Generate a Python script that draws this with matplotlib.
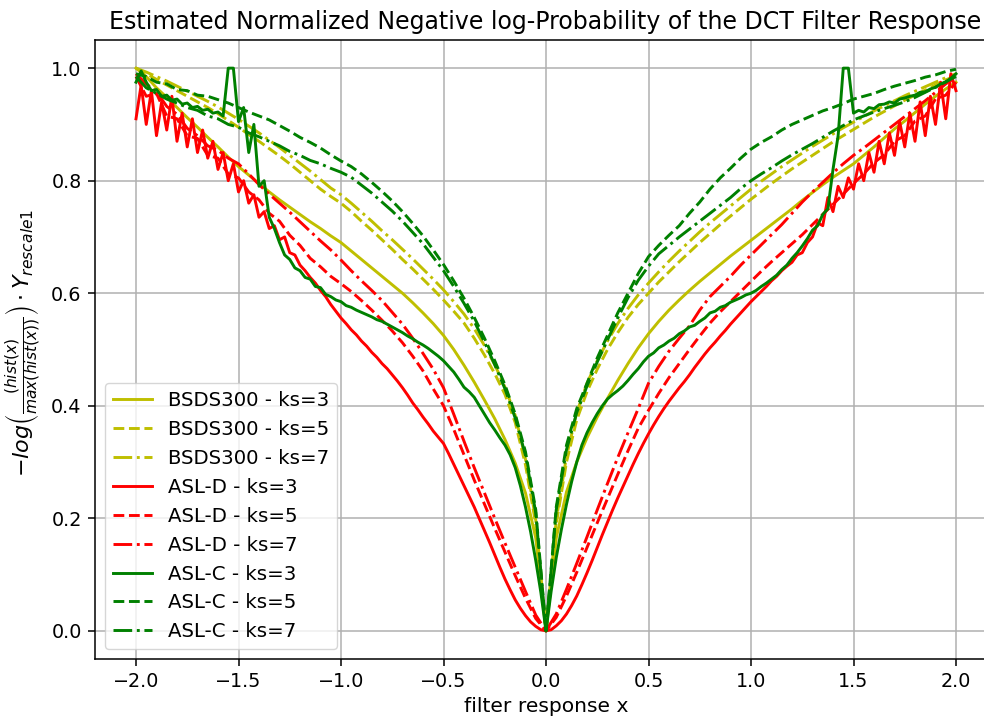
import numpy as np
import matplotlib
matplotlib.use('Agg')
import matplotlib.pyplot as plt

# === Data (bins of the filter response) ===
# curves on a 0.05 grid: -2.0 ... 2.0 (81 bins)
bsds_k3 = [1.000, 0.985, 0.965, 0.948, 0.930, 0.912, 0.895, 0.877, 0.860, 0.842,
           0.825, 0.810, 0.795, 0.780, 0.766, 0.753, 0.740, 0.727, 0.715, 0.702,
           0.690, 0.675, 0.660, 0.645, 0.630, 0.615, 0.600, 0.583, 0.565, 0.546,
           0.525, 0.500, 0.472, 0.442, 0.410, 0.377, 0.340, 0.298, 0.245, 0.165,
           0.000,
           0.165, 0.247, 0.300, 0.343, 0.380, 0.413, 0.445, 0.475, 0.503, 0.528,
           0.550, 0.570, 0.588, 0.605, 0.621, 0.636, 0.651, 0.666, 0.680, 0.694,
           0.708, 0.722, 0.736, 0.750, 0.765, 0.779, 0.793, 0.806, 0.818, 0.830,
           0.845, 0.860, 0.876, 0.892, 0.906, 0.921, 0.936, 0.950, 0.963, 0.975]
bsds_k5 = [1.000, 0.990, 0.980, 0.970, 0.960, 0.950, 0.940, 0.930, 0.919, 0.907,
           0.895, 0.882, 0.870, 0.857, 0.844, 0.830, 0.815, 0.800, 0.785, 0.772,
           0.760, 0.745, 0.728, 0.712, 0.695, 0.678, 0.660, 0.643, 0.625, 0.607,
           0.588, 0.568, 0.547, 0.520, 0.490, 0.457, 0.420, 0.370, 0.295, 0.190,
           0.000,
           0.190, 0.300, 0.375, 0.425, 0.465, 0.500, 0.530, 0.557, 0.580, 0.600,
           0.620, 0.638, 0.656, 0.673, 0.690, 0.706, 0.722, 0.737, 0.752, 0.767,
           0.781, 0.795, 0.808, 0.821, 0.833, 0.845, 0.857, 0.869, 0.880, 0.891,
           0.902, 0.913, 0.923, 0.933, 0.943, 0.952, 0.961, 0.970, 0.979, 0.987]
bsds_k7 = [1.000, 0.993, 0.985, 0.977, 0.968, 0.959, 0.950, 0.941, 0.931, 0.920,
           0.909, 0.897, 0.885, 0.872, 0.859, 0.845, 0.831, 0.817, 0.802, 0.787,
           0.775, 0.760, 0.744, 0.728, 0.711, 0.695, 0.678, 0.661, 0.643, 0.625,
           0.606, 0.585, 0.563, 0.537, 0.507, 0.473, 0.433, 0.383, 0.305, 0.197,
           0.000,
           0.197, 0.310, 0.388, 0.440, 0.480, 0.515, 0.546, 0.573, 0.597, 0.618,
           0.638, 0.657, 0.675, 0.692, 0.709, 0.725, 0.740, 0.755, 0.770, 0.785,
           0.799, 0.812, 0.825, 0.837, 0.849, 0.861, 0.872, 0.883, 0.894, 0.904,
           0.914, 0.924, 0.933, 0.942, 0.951, 0.959, 0.967, 0.975, 0.983, 0.990]
asld_k5 = [0.985, 0.950, 0.955, 0.915, 0.910, 0.880, 0.875, 0.845, 0.840, 0.812,
           0.805, 0.780, 0.766, 0.742, 0.728, 0.703, 0.685, 0.662, 0.647, 0.630,
           0.617, 0.603, 0.587, 0.570, 0.552, 0.533, 0.512, 0.488, 0.462, 0.430,
           0.400, 0.358, 0.313, 0.268, 0.225, 0.182, 0.140, 0.098, 0.058, 0.022,
           0.000,
           0.024, 0.062, 0.104, 0.148, 0.192, 0.235, 0.278, 0.320, 0.360, 0.392,
           0.422, 0.450, 0.475, 0.500, 0.524, 0.547, 0.567, 0.585, 0.603, 0.621,
           0.639, 0.656, 0.672, 0.688, 0.704, 0.722, 0.740, 0.758, 0.776, 0.795,
           0.812, 0.832, 0.846, 0.870, 0.880, 0.906, 0.915, 0.945, 0.952, 0.975]
asld_k7 = [0.990, 0.972, 0.958, 0.932, 0.918, 0.893, 0.880, 0.862, 0.854, 0.840,
           0.830, 0.812, 0.793, 0.776, 0.760, 0.744, 0.727, 0.710, 0.693, 0.677,
           0.659, 0.640, 0.622, 0.605, 0.587, 0.566, 0.545, 0.520, 0.493, 0.465,
           0.432, 0.385, 0.337, 0.290, 0.245, 0.200, 0.156, 0.113, 0.070, 0.028,
           0.000,
           0.030, 0.074, 0.120, 0.167, 0.215, 0.262, 0.308, 0.352, 0.395, 0.440,
           0.470, 0.497, 0.520, 0.542, 0.570, 0.594, 0.612, 0.630, 0.650, 0.668,
           0.686, 0.704, 0.722, 0.742, 0.762, 0.780, 0.797, 0.814, 0.830, 0.845,
           0.858, 0.872, 0.886, 0.900, 0.914, 0.928, 0.942, 0.957, 0.972, 0.985]
aslc_k5 = [0.990, 0.985, 0.975, 0.972, 0.962, 0.960, 0.952, 0.950, 0.944, 0.938,
           0.930, 0.922, 0.915, 0.908, 0.898, 0.888, 0.877, 0.868, 0.858, 0.846,
           0.835, 0.825, 0.812, 0.797, 0.781, 0.764, 0.745, 0.724, 0.702, 0.677,
           0.651, 0.622, 0.591, 0.557, 0.520, 0.480, 0.437, 0.385, 0.318, 0.215,
           0.000,
           0.220, 0.330, 0.395, 0.440, 0.485, 0.525, 0.565, 0.600, 0.635, 0.665,
           0.685, 0.703, 0.720, 0.742, 0.762, 0.785, 0.805, 0.822, 0.840, 0.856,
           0.868, 0.878, 0.890, 0.900, 0.908, 0.916, 0.924, 0.930, 0.937, 0.945,
           0.950, 0.955, 0.962, 0.968, 0.973, 0.978, 0.984, 0.988, 0.994, 0.998]
aslc_k7 = [0.985, 0.965, 0.955, 0.945, 0.938, 0.930, 0.925, 0.915, 0.910, 0.900,
           0.895, 0.885, 0.878, 0.870, 0.862, 0.852, 0.845, 0.836, 0.830, 0.822,
           0.815, 0.806, 0.792, 0.778, 0.762, 0.746, 0.728, 0.708, 0.688, 0.664,
           0.640, 0.612, 0.582, 0.550, 0.513, 0.473, 0.430, 0.378, 0.312, 0.210,
           0.000,
           0.215, 0.322, 0.388, 0.435, 0.478, 0.517, 0.556, 0.592, 0.623, 0.648,
           0.670, 0.685, 0.700, 0.714, 0.728, 0.742, 0.756, 0.770, 0.786, 0.800,
           0.812, 0.823, 0.835, 0.846, 0.856, 0.866, 0.877, 0.888, 0.898, 0.908,
           0.915, 0.922, 0.928, 0.934, 0.940, 0.948, 0.957, 0.966, 0.976, 0.985]

# noisier curves on a 0.025 grid: -2.0 ... 2.0 (161 bins)
asld_k3 = [0.910, 0.970, 0.900, 0.960, 0.880, 0.940, 0.890, 0.950, 0.870, 0.920,
           0.860, 0.910, 0.850, 0.890, 0.840, 0.870, 0.820, 0.850, 0.800, 0.830,
           0.780, 0.800, 0.760, 0.775, 0.735, 0.745, 0.715, 0.720, 0.695, 0.700,
           0.672, 0.668, 0.650,
           0.640, 0.628, 0.618, 0.605, 0.594, 0.580, 0.568, 0.556, 0.546, 0.535,
           0.526, 0.515, 0.506, 0.495, 0.486, 0.475, 0.466, 0.455, 0.444, 0.432,
           0.419, 0.405, 0.393, 0.380, 0.368, 0.355, 0.344, 0.333, 0.315, 0.296,
           0.277, 0.258, 0.239, 0.220, 0.199, 0.178, 0.157, 0.135, 0.113, 0.092,
           0.073, 0.055, 0.040, 0.027, 0.016, 0.008, 0.002, 0.000,
           0.002, 0.009, 0.018, 0.030, 0.045, 0.062, 0.082, 0.103, 0.125, 0.148,
           0.171, 0.193, 0.215, 0.236, 0.256, 0.276, 0.296, 0.315, 0.333, 0.350,
           0.366, 0.381, 0.395, 0.408, 0.420, 0.432, 0.443, 0.455, 0.468, 0.480,
           0.492, 0.503, 0.513, 0.524, 0.534, 0.545, 0.555, 0.565, 0.575, 0.585,
           0.594, 0.603, 0.612, 0.622, 0.630, 0.640, 0.648,
           0.655, 0.668, 0.672, 0.690, 0.700, 0.725, 0.720, 0.770, 0.745, 0.790,
           0.770, 0.805, 0.785, 0.830, 0.800, 0.850, 0.815, 0.870, 0.830, 0.885,
           0.845, 0.905, 0.860, 0.920, 0.870, 0.940, 0.880, 0.950, 0.900, 0.975,
           0.910, 0.990, 0.960]
aslc_k3 = [0.975, 0.995, 0.975, 0.960, 0.962, 0.950, 0.952, 0.943, 0.945, 0.936,
           0.938, 0.930, 0.932, 0.925, 0.927, 0.920, 0.922, 0.915, 1.000, 1.000,
           0.905, 0.930, 0.850, 0.900, 0.790, 0.800, 0.735, 0.715, 0.690, 0.668,
           0.660, 0.645, 0.640, 0.628, 0.625, 0.612, 0.610, 0.598, 0.594, 0.588,
           0.585, 0.578, 0.575, 0.570, 0.566, 0.562, 0.558, 0.553, 0.550, 0.545,
           0.540, 0.535, 0.530, 0.524, 0.519, 0.513, 0.508, 0.502, 0.495, 0.488,
           0.480, 0.470, 0.460, 0.447, 0.433, 0.425, 0.415, 0.400, 0.385, 0.370,
           0.357, 0.343, 0.330, 0.313, 0.290, 0.258, 0.220, 0.176, 0.125, 0.068,
           0.000,
           0.070, 0.130, 0.180, 0.225, 0.265, 0.300, 0.330, 0.352, 0.370, 0.386,
           0.400, 0.412, 0.420, 0.427, 0.435, 0.445, 0.456, 0.466, 0.478, 0.488,
           0.494, 0.503, 0.508, 0.515, 0.520, 0.528, 0.533, 0.540, 0.543, 0.550,
           0.556, 0.565, 0.568, 0.575, 0.578, 0.584, 0.588, 0.592, 0.597, 0.600,
           0.605, 0.612, 0.618, 0.625, 0.632, 0.642, 0.650, 0.662, 0.672, 0.684,
           0.697, 0.712, 0.720, 0.740, 0.750, 0.820, 0.880, 1.000, 1.000, 0.920,
           0.925, 0.922, 0.930, 0.928, 0.935, 0.936, 0.940, 0.938, 0.945, 0.947,
           0.950, 0.952, 0.957, 0.958, 0.963, 0.966, 0.972, 0.975, 0.982, 0.990]

x_coarse = np.linspace(-2.0, 2.0, len(bsds_k3))
x_fine = np.linspace(-2.0, 2.0, len(asld_k3))

# === Style (scaled up old matplotlib look) ===
plt.rcParams['font.family'] = ['DejaVu Sans']
plt.rcParams['font.size'] = 13.8
plt.rcParams['axes.linewidth'] = 1.1
plt.rcParams['xtick.major.width'] = 1.1
plt.rcParams['ytick.major.width'] = 1.1
plt.rcParams['xtick.major.size'] = 4.8
plt.rcParams['ytick.major.size'] = 4.8
plt.rcParams['xtick.major.pad'] = 4.8
plt.rcParams['ytick.major.pad'] = 4.8

fig = plt.figure(figsize=(9.84, 7.18), dpi=100)
ax = fig.add_axes([95 / 984, 59 / 718, 902 / 984, 619 / 718])

lw = 2.1
ax.plot(x_coarse, bsds_k3, color='y', ls='-', lw=lw, label='BSDS300 - ks=3')
ax.plot(x_coarse, bsds_k5, color='y', ls='--', lw=lw, label='BSDS300 - ks=5')
ax.plot(x_coarse, bsds_k7, color='y', ls='-.', lw=lw, label='BSDS300 - ks=7')
ax.plot(x_fine, asld_k3, color='r', ls='-', lw=lw, label='ASL-D - ks=3')
ax.plot(x_coarse, asld_k5, color='r', ls='--', lw=lw, label='ASL-D - ks=5')
ax.plot(x_coarse, asld_k7, color='r', ls='-.', lw=lw, label='ASL-D - ks=7')
ax.plot(x_fine, aslc_k3, color='g', ls='-', lw=lw, label='ASL-C - ks=3')
ax.plot(x_coarse, aslc_k5, color='g', ls='--', lw=lw, label='ASL-C - ks=5')
ax.plot(x_coarse, aslc_k7, color='g', ls='-.', lw=lw, label='ASL-C - ks=7')

ax.set_xlim(-2.2, 2.2)
ax.set_ylim(-0.05, 1.05)
ax.set_xticks(np.arange(-2.0, 2.01, 0.5))
ax.set_yticks(np.arange(0.0, 1.01, 0.2))
ax.grid(True, color='#b0b0b0', lw=1.1)

# title is centred on the visible part so it is not cut by the figure edge
fig.text(545 / 984, 1 - 29 / 718,
         'Estimated Normalized Negative log-Probability of the DCT Filter Response',
         fontsize=17.0, ha='center', va='baseline')
ax.set_xlabel('filter response x', fontsize=14.6)
ax.set_ylabel(r'$-log\left(\frac{(hist(x)}{max(hist(x))}\right) \cdot Y_{rescale1}$',
              fontsize=16.0)
ax.yaxis.set_label_coords(-0.058, 0.51)
ax.legend(loc='lower left', fontsize=14.2)

plt.savefig('out.png', dpi=100)
